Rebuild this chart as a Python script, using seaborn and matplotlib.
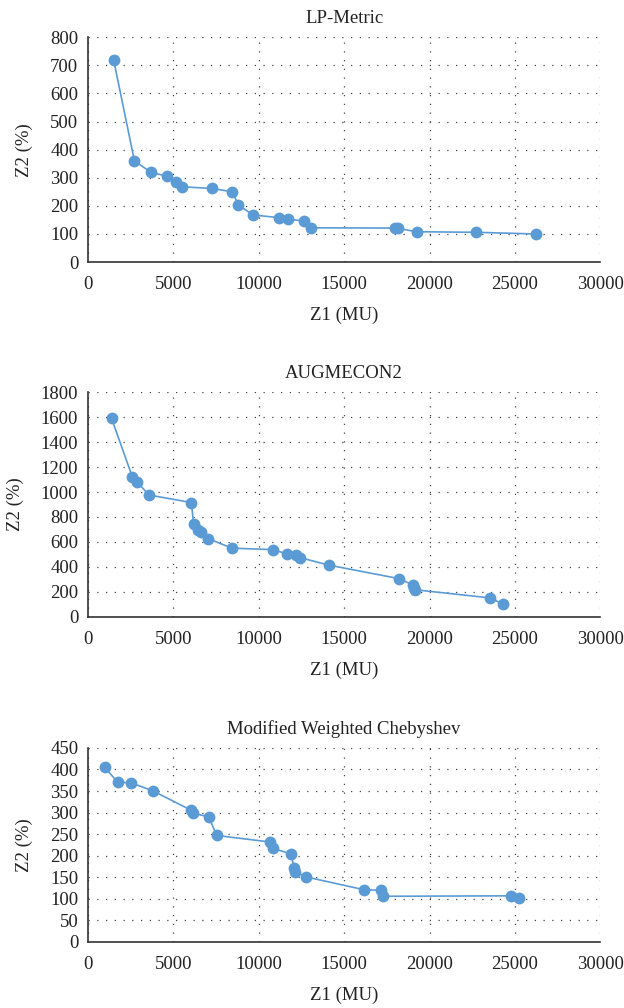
"""
Pareto fronts for three solution methods (Z1 vs Z2)
"""

import pandas as pd
import matplotlib
matplotlib.use('Agg')
import matplotlib.pyplot as plt
import seaborn as sns

# LP-Metric
lp_z1 = [1500, 2720, 3680, 4640, 5160, 5160, 5510, 7270, 8460, 8810, 9660,
         11180, 11720, 12630, 13060, 18000, 18150, 19240, 22710, 26230]
lp_z2 = [720, 360, 320, 305, 300, 270, 268, 262, 250, 203, 168,
         158, 152, 147, 122, 121, 120, 108, 106, 100]

# AUGMECON2
aug_z1 = [1380, 2600, 2890, 3560, 6060, 6180, 6420, 6630, 7050, 8440, 10850,
          11650, 12200, 12440, 14090, 18230, 19020, 19110, 19170, 23560, 24290]
aug_z2 = [1590, 1120, 1080, 976, 916, 745, 694, 680, 626, 550, 539,
          504, 499, 474, 415, 306, 255, 230, 217, 152, 103]

# Modified Weighted Chebyshev
mwc_z1 = [980, 1730, 2540, 3820, 6020, 6140, 7070, 7540, 10630, 10850,
          11890, 12070, 12150, 12760, 16180, 17150, 17300, 24760, 25260]
mwc_z2 = [405, 371, 369, 350, 306, 299, 290, 247, 232, 217,
          204, 172, 163, 151, 121, 120, 106, 107, 102]

titles = ['LP-Metric', 'AUGMECON2', 'Modified Weighted Chebyshev']
y_limits = [(0, 800, 100), (0, 1800, 200), (0, 450, 50)]
series = [(lp_z1, lp_z2), (aug_z1, aug_z2), (mwc_z1, mwc_z2)]

sns.set_style('white')
plt.rcParams['font.family'] = ['Liberation Serif', 'DejaVu Serif']

fig = plt.figure(figsize=(6.24, 10.08), dpi=100)
# axes boxes [left, bottom, width, height]
boxes = [[0.141, 0.740, 0.821, 0.223],
         [0.141, 0.388, 0.821, 0.223],
         [0.141, 0.0655, 0.821, 0.1925]]

for box, title, (z1, z2), (y0, y1, ystep) in zip(boxes, titles, series, y_limits):
    ax = fig.add_axes(box)
    df = pd.DataFrame({'Z1': z1, 'Z2': z2})
    sns.lineplot(x='Z1', y='Z2', data=df, ax=ax, sort=False, color='#5B9BD5',
                 linewidth=1.2, marker='o', markersize=8.5, markeredgewidth=0,
                 markerfacecolor='#5B9BD5')
    ax.set_xlim(0, 30000)
    ax.set_ylim(y0, y1)
    ax.set_xticks(range(0, 30001, 5000))
    ax.set_yticks(range(y0, y1 + 1, ystep))
    ax.grid(True, color='#444444', linestyle=(0, (1, 6)), linewidth=0.9)
    ax.tick_params(axis='y', length=0, labelsize=13.5, pad=7, colors='#222222')
    ax.tick_params(axis='x', length=0, labelsize=13.5, pad=10, colors='#222222')
    ax.set_title(title, fontsize=13.5, color='#222222', pad=10)
    ax.set_xlabel('Z1 (MU)', fontsize=13.5, color='#222222', labelpad=10)
    ax.set_ylabel('Z2 (%)', fontsize=13.5, color='#222222', labelpad=12)
    for side in ['top', 'right']:
        ax.spines[side].set_visible(False)
    for side in ['left', 'bottom']:
        ax.spines[side].set_color('#333333')
        ax.spines[side].set_linewidth(1.2)

plt.savefig('out.png', dpi=100)
